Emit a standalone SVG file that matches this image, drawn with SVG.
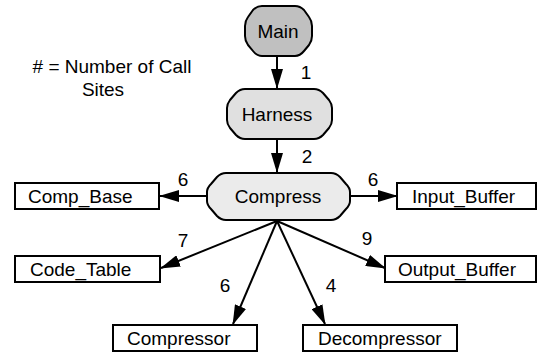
<svg xmlns="http://www.w3.org/2000/svg" width="539" height="353" viewBox="0 0 539 353">
<defs>
<style>
text{font-family:"Liberation Sans",Arial,sans-serif;font-size:19px;fill:#000}
.node{stroke:#000;stroke-width:2;stroke-linejoin:round}
.box{fill:#fff;stroke:#000;stroke-width:2}
.edge{stroke:#000;stroke-width:2;fill:none;marker-end:url(#arr)}
.c{text-anchor:middle}
</style>
<marker id="arr" viewBox="0 0 20 12" refX="19" refY="6" markerWidth="20" markerHeight="12" markerUnits="userSpaceOnUse" orient="auto">
<path d="M0,0 L20,6 L0,12 Z" fill="#000"/>
</marker>
</defs>
<rect width="539" height="353" fill="#fff"/>
<g id="legend">
<text x="112" y="73" class="c"># = Number of Call</text>
<text x="103" y="96" class="c">Sites</text>
</g>
<g id="connectors">
<line class="edge" x1="277" y1="57" x2="277" y2="88"/>
<line class="edge" x1="277" y1="140" x2="277" y2="172"/>
<line class="edge" x1="207" y1="196" x2="160" y2="196"/>
<line class="edge" x1="350" y1="196" x2="397" y2="196"/>
<line class="edge" x1="277" y1="221" x2="161" y2="268"/>
<line class="edge" x1="277" y1="221" x2="233" y2="324"/>
<line class="edge" x1="277" y1="221" x2="325" y2="324"/>
<line class="edge" x1="277" y1="221" x2="385" y2="268"/>
<text x="306" y="79" class="c">1</text>
<text x="307" y="163" class="c">2</text>
<text x="183" y="186" class="c">6</text>
<text x="373" y="186" class="c">6</text>
<text x="183" y="247" class="c">7</text>
<text x="367" y="245" class="c">9</text>
<text x="225" y="292" class="c">6</text>
<text x="331" y="292" class="c">4</text>
</g>
<g id="main">
<path class="node" fill="#c0c0c0" d="M262,6 L295,6 Q300,6 304,10 L309,17 Q312,21 312,26 L312,36 Q312,41 309,45 L304,51 Q300,56 295,56 L262,56 Q257,56 253,51 L248,45 Q245,41 245,36 L245,26 Q245,21 248,17 L253,10 Q257,6 262,6 Z"/>
<text x="278" y="38" class="c">Main</text>
</g>
<g id="harness">
<path class="node" fill="#e0e0e0" d="M245,89 L314,89 Q319,89 323,93 L329,100 Q332,104 332,108 L332,120 Q332,124 329,128 L323,135 Q319,139 314,139 L245,139 Q240,139 236,135 L230,128 Q227,124 227,120 L227,108 Q227,104 230,100 L236,93 Q240,89 245,89 Z"/>
<text x="277" y="121" class="c">Harness</text>
</g>
<g id="compress">
<path class="node" fill="#ebebeb" d="M226,173 L331,173 Q336,173 340,177 L346,184 Q350,188 350,192 L350,201 Q350,205 346,209 L340,216 Q336,220 331,220 L226,220 Q221,220 217,216 L211,209 Q207,205 207,201 L207,192 Q207,188 211,184 L217,177 Q221,173 226,173 Z"/>
<text x="278" y="203" class="c">Compress</text>
</g>
<g id="comp_base">
<rect class="box" x="15" y="183" width="144" height="26"/>
<text x="28" y="203">Comp_Base</text>
</g>
<g id="input_buffer">
<rect class="box" x="397" y="183" width="139" height="26"/>
<text x="412" y="203">Input_Buffer</text>
</g>
<g id="code_table">
<rect class="box" x="15" y="256" width="145" height="26"/>
<text x="30" y="276">Code_Table</text>
</g>
<g id="output_buffer">
<rect class="box" x="385" y="256" width="151" height="26"/>
<text x="398" y="276">Output_Buffer</text>
</g>
<g id="compressor">
<rect class="box" x="113" y="325" width="144" height="26"/>
<text x="127" y="345">Compressor</text>
</g>
<g id="decompressor">
<rect class="box" x="303" y="325" width="154" height="26"/>
<text x="318" y="345">Decompressor</text>
</g>
</svg>
